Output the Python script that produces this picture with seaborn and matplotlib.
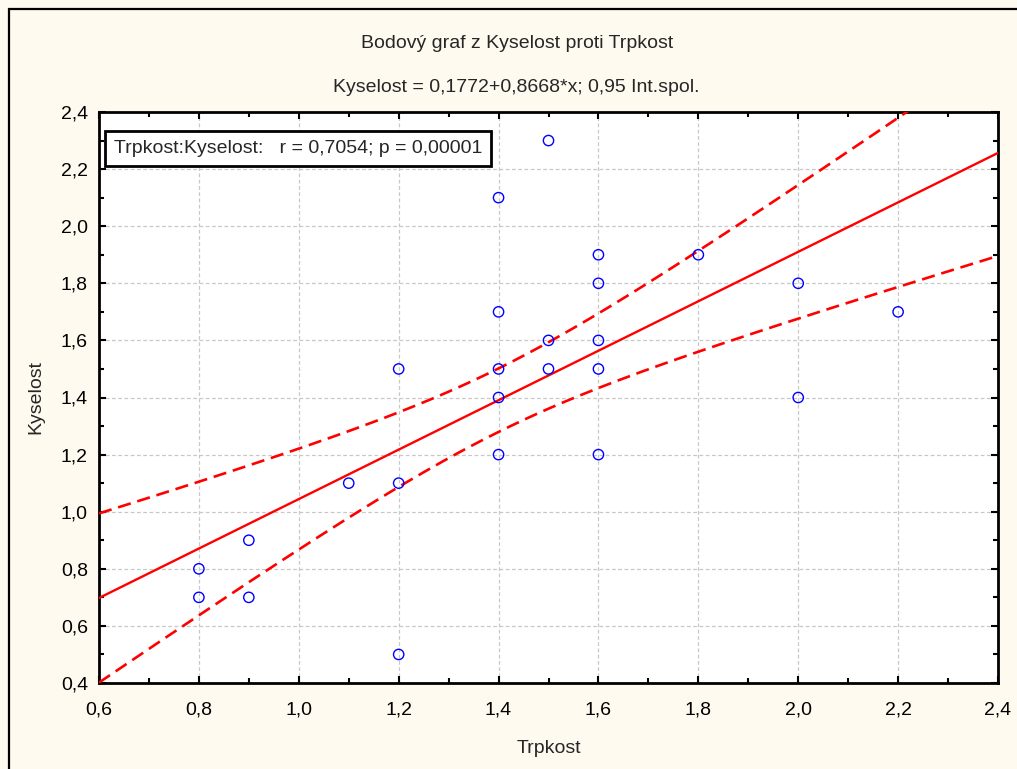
import numpy as np
import pandas as pd
import matplotlib
matplotlib.use("Agg")
import matplotlib.pyplot as plt
from matplotlib.patches import Rectangle
from matplotlib.ticker import FixedLocator, MultipleLocator
import seaborn as sns

# ---------------- data (overlapping points repeated) ----------------
trpkost = [0.8, 0.8, 0.9, 0.9, 1.1, 1.1,
           1.2, 1.2, 1.2, 1.2, 1.2,
           1.4, 1.4, 1.4, 1.4, 1.4, 1.4, 1.4, 1.4,
           1.5, 1.5, 1.5, 1.5,
           1.6, 1.6, 1.6, 1.6, 1.6,
           1.8, 2.0, 2.0, 2.2]
kyselost = [0.7, 0.8, 0.7, 0.9, 1.1, 1.1,
            0.5, 1.1, 1.1, 1.1, 1.5,
            1.2, 1.4, 1.4, 1.4, 1.5, 1.5, 1.7, 2.1,
            1.5, 1.5, 1.6, 2.3,
            1.2, 1.5, 1.6, 1.8, 1.9,
            1.9, 1.4, 1.8, 1.7]

x_ticks = [0.6, 0.8, 1.0, 1.2, 1.4, 1.6, 1.8, 2.0, 2.2, 2.4]
x_tick_labels = ["0,6", "0,8", "1,0", "1,2", "1,4", "1,6", "1,8", "2,0", "2,2", "2,4"]
y_ticks = [0.4, 0.6, 0.8, 1.0, 1.2, 1.4, 1.6, 1.8, 2.0, 2.2, 2.4]
y_tick_labels = ["0,4", "0,6", "0,8", "1,0", "1,2", "1,4", "1,6", "1,8", "2,0", "2,2", "2,4"]

title_1 = "Bodový graf z Kyselost proti Trpkost"
title_2 = "Kyselost = 0,1772+0,8668*x; 0,95 Int.spol."
stat_text = "Trpkost:Kyselost:   r = 0,7054; p = 0,00001"
x_label = "Trpkost"
y_label = "Kyselost"
conf_level = 0.95

# ---------------- regression + confidence band ----------------
df = pd.DataFrame({"Trpkost": trpkost, "Kyselost": kyselost})
x = np.asarray(trpkost)
y = np.asarray(kyselost)
n = len(x)
slope, intercept = np.polyfit(x, y, 1)
resid = y - (intercept + slope * x)
s = np.sqrt(np.sum(resid ** 2) / (n - 2))
try:
    from scipy import stats
    tval = stats.t.ppf(0.5 + conf_level / 2, n - 2)
except Exception:
    tval = 2.042
xs = np.linspace(x_ticks[0], x_ticks[-1], 200)
fit = intercept + slope * xs
hw = tval * s * np.sqrt(1.0 / n + (xs - x.mean()) ** 2 / np.sum((x - x.mean()) ** 2))
band = pd.DataFrame({"x": xs, "fit": fit, "lo": fit - hw, "hi": fit + hw})

# ---------------- figure ----------------
sns.set_theme(style="white")
plt.rcParams["font.family"] = ["Liberation Sans", "DejaVu Sans"]
FS = 14

W, H = 1017, 769
fig = plt.figure(figsize=(W / 100, H / 100), dpi=100, facecolor="#FFFAEF")
ax = fig.add_axes([99 / W, 1 - 683 / H, (998 - 99) / W, (683 - 112) / H])
ax.set_facecolor("white")

ax.set_xlim(x_ticks[0], x_ticks[-1])
ax.set_ylim(y_ticks[0], y_ticks[-1])
ax.xaxis.set_major_locator(FixedLocator(x_ticks))
ax.yaxis.set_major_locator(FixedLocator(y_ticks))
ax.set_xticklabels(x_tick_labels)
ax.set_yticklabels(y_tick_labels)
ax.xaxis.set_minor_locator(MultipleLocator(0.1))
ax.yaxis.set_minor_locator(MultipleLocator(0.1))
ax.grid(True, which="major", color="#C8C8C8", linestyle=(0, (3, 2)), linewidth=0.9)
ax.set_axisbelow(True)

sns.lineplot(data=band, x="x", y="fit", ax=ax, color="#FF0000", linewidth=1.7, zorder=3)
sns.lineplot(data=band, x="x", y="hi", ax=ax, color="#FF0000", linewidth=1.9,
             linestyle=(0, (5, 2.6)), zorder=3)
sns.lineplot(data=band, x="x", y="lo", ax=ax, color="#FF0000", linewidth=1.9,
             linestyle=(0, (5, 2.6)), zorder=3)
sns.scatterplot(data=df.drop_duplicates(), x="Trpkost", y="Kyselost", ax=ax, s=55,
                marker="o", facecolor="none", edgecolor="#0000FF", linewidth=1.0, zorder=4)

ax.set_xlim(x_ticks[0], x_ticks[-1])
ax.set_ylim(y_ticks[0], y_ticks[-1])

for sp in ax.spines.values():
    sp.set_visible(True)
    sp.set_color("black")
    sp.set_linewidth(2.0)

ax.tick_params(which="both", direction="in", top=True, right=True, bottom=True, left=True,
               colors="black")
ax.tick_params(which="major", length=5, width=1.5, labelsize=FS)
ax.tick_params(which="minor", length=3.5, width=1.5)
ax.tick_params(axis="x", which="major", pad=13)
ax.tick_params(axis="y", which="major", pad=8)

ax.set_xlabel(x_label, fontsize=FS, labelpad=16)
ax.set_ylabel(y_label, fontsize=FS, labelpad=12)

# stats box
ax.text(0.0165, 0.936, stat_text, transform=ax.transAxes, fontsize=FS,
        ha="left", va="center", zorder=6,
        bbox=dict(boxstyle="square,pad=0.44", facecolor="white", edgecolor="black",
                  linewidth=2.0))

# titles
fig.text(517 / W, 1 - 44 / H, title_1, ha="center", va="center", fontsize=FS)
fig.text(516 / W, 1 - 87 / H, title_2, ha="center", va="center", fontsize=FS)

# outer frame (left and top edges visible)
fig.patches.append(Rectangle((9 / W, -0.2), 1.2, 1.2 - 9 / H, transform=fig.transFigure,
                             fill=False, edgecolor="black", linewidth=1.6))

fig.savefig("out.png", dpi=100, facecolor=fig.get_facecolor())
